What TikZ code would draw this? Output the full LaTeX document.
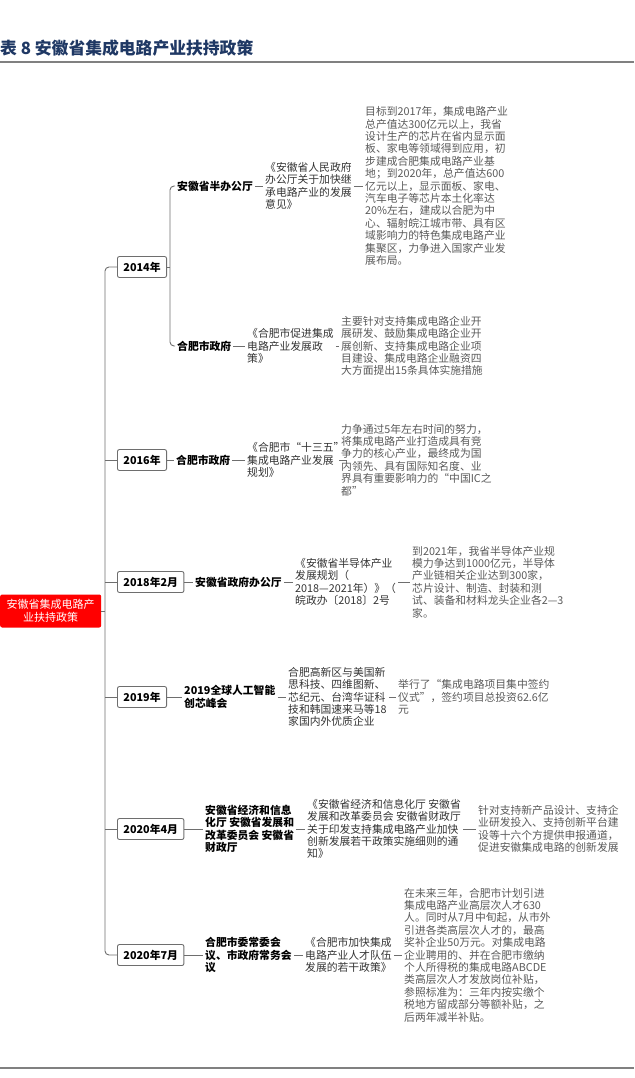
\documentclass[tikz,border=0pt]{standalone}
\usepackage{fontspec}
\setmainfont{Noto Sans CJK SC}
\usepackage{tikz}

\definecolor{azultitulo}{HTML}{1F3864}
\definecolor{gristexto}{HTML}{5A5A5A}
\definecolor{grisdoc}{HTML}{333333}
\definecolor{grislinea}{HTML}{6E6E6E}
\definecolor{rojoraiz}{HTML}{FF0000}

\begin{document}
\begin{tikzpicture}[x=1pt,y=-1pt,
  linea/.style={draw=grislinea,line width=0.9pt},
  texto/.style={anchor=west,align=left,inner xsep=2pt,inner ysep=0pt,
    font=\fontsize{10.8}{12.4}\selectfont},
  org/.style={texto,text=black,font=\fontsize{10.8}{12.4}\selectfont\bfseries},
  doc/.style={texto,text=grisdoc},
  note/.style={texto,text=gristexto},
  year/.style={anchor=west,draw=grislinea,line width=0.9pt,rounded corners=2pt,
    inner xsep=6pt,inner ysep=0pt,minimum height=21pt,text=black,
    font=\fontsize{10.8}{12.4}\selectfont\bfseries}]

\useasboundingbox (0,0) rectangle (634,1078);

% Titulo y reglas
\node[anchor=west,inner sep=0pt,text=azultitulo,font=\fontsize{16.8}{19}\selectfont\bfseries]
  (titulo) at (0,48) {表 8 安徽省集成电路产业扶持政策};
\draw[draw=gray,line width=1.4pt] (0,62) -- (634,62);
\draw[draw=gray,line width=1.4pt] (0,1068) -- (634,1068);

% Raiz
\node[anchor=west,fill=rojoraiz,rounded corners=2pt,text=white,align=center,
  minimum width=101pt,minimum height=33pt,inner sep=0pt,
  font=\fontsize{11}{13.5}\selectfont]
  (raiz) at (0,611) {安徽省集成电路产\\业扶持政策};

% 2014
\node[year] (a2014) at (117,267) {2014年};
\node[org] (o1) at (175,186) {安徽省半办公厅};
\node[doc] (d1) at (263,186) {《安徽省人民政府\\办公厅关于加快继\\承电路产业的发展\\意见》};
\node[note] (t1) at (363,186) {目标到2017年，集成电路产业\\总产值达300亿元以上，我省\\设计生产的芯片在省内显示面\\板、家电等领域得到应用，初\\步建成合肥集成电路产业基\\地；到2020年，总产值达600\\亿元以上，显示面板、家电、\\汽车电子等芯片本土化率达\\20\%左右，建成以合肥为中\\心、辐射皖江城市带、具有区\\域影响力的特色集成电路产业\\集聚区，力争进入国家产业发\\展布局。};
\node[org] (o2) at (175,346) {合肥市政府};
\node[doc] (d2) at (245,346) {《合肥市促进集成\\电路产业发展政\\策》};
\node[note] (t2) at (339,346) {主要针对支持集成电路企业开\\展研发、鼓励集成电路企业开\\展创新、支持集成电路企业项\\目建设、集成电路企业融资四\\大方面提出15条具体实施措施};

% 2016
\node[year] (a2016) at (117,460) {2016年};
\node[org] (o3) at (174,460) {合肥市政府};
\node[doc] (d3) at (245,460) {《合肥市“十三五”\\集成电路产业发展\\规划》};
\node[note] (t3) at (339,460) {力争通过5年左右时间的努力，\\将集成电路产业打造成具有竞\\争力的核心产业，最终成为国\\内领先、具有国际知名度、业\\界具有重要影响力的“中国IC之\\都”};

% 2018
\node[year] (a2018) at (117,582) {2018年2月};
\node[org] (o4) at (193,582) {安徽省政府办公厅};
\node[doc] (d4) at (293,582) {《安徽省半导体产业\\发展规划（\\2018—2021年）》（\\皖政办〔2018〕2号};
\node[note] (t4) at (410,582) {到2021年，我省半导体产业规\\模力争达到1000亿元，半导体\\产业链相关企业达到300家，\\芯片设计、制造、封装和测\\试、装备和材料龙头企业各2—3\\家。};

% 2019
\node[year] (a2019) at (117,697) {2019年};
\node[org] (o5) at (182,697) {2019全球人工智能\\创芯峰会};
\node[doc] (d5) at (286,697) {合肥高新区与美国新\\思科技、四维图新、\\芯纪元、台湾华证科\\技和韩国速来马等18\\家国内外优质企业};
\node[note] (t5) at (396,697) {举行了“集成电路项目集中签约\\仪式”，签约项目总投资62.6亿\\元};

% 2020年4月
\node[year] (a2020a) at (117,829) {2020年4月};
\node[org] (o6) at (203,829) {安徽省经济和信息\\化厅 安徽省发展和\\改革委员会 安徽省\\财政厅};
\node[doc] (d6) at (305,829) {《安徽省经济和信息化厅 安徽省\\发展和改革委员会 安徽省财政厅\\关于印发支持集成电路产业加快\\创新发展若干政策实施细则的通\\知》};
\node[note] (t6) at (476,829) {针对支持新产品设计、支持企\\业研发投入、支持创新平台建\\设等十六个方提供申报通道，\\促进安徽集成电路的创新发展};

% 2020年7月
\node[year] (a2020b) at (117,955) {2020年7月};
\node[org] (o7) at (203,955) {合肥市委常委会\\议、市政府常务会\\议};
\node[doc] (d7) at (303,955) {《合肥市加快集成\\电路产业人才队伍\\发展的若干政策》};
\node[note] (t7) at (402,955) {在未来三年，合肥市计划引进\\集成电路产业高层次人才630\\人。同时从7月中旬起，从市外\\引进各类高层次人才的，最高\\奖补企业50万元。对集成电路\\企业聘用的、并在合肥市缴纳\\个人所得税的集成电路ABCDE\\类高层次人才发放岗位补贴，\\参照标准为：三年内按实缴个\\税地方留成部分等额补贴，之\\后两年减半补贴。};

% Tronco
\coordinate (tronco) at (105,611);
\draw[linea] (raiz.east) -- (tronco);
\draw[linea,rounded corners=4pt] (a2014.west) -| (tronco) |- (a2020b.west);
\foreach \n in {a2016,a2018,a2019,a2020a}
  \draw[linea] (\n.west) -- (\n.west -| tronco);

% Rama de 2014
\coordinate (rama) at (170,267);
\draw[linea] (a2014.east) -- (rama);
\draw[linea,rounded corners=4pt] (o1.west) -| (rama) |- (o2.west);

% Conectores
\foreach \a/\b in {o1/d1,d1/t1,o2/d2,d2/t2,a2016/o3,o3/d3,d3/t3,
                   a2018/o4,o4/d4,d4/t4,a2019/o5,o5/d5,d5/t5,
                   a2020a/o6,o6/d6,d6/t6,a2020b/o7,o7/d7,d7/t7}
  \draw[linea] (\a.east) -- (\b.west);
\end{tikzpicture}
\end{document}
